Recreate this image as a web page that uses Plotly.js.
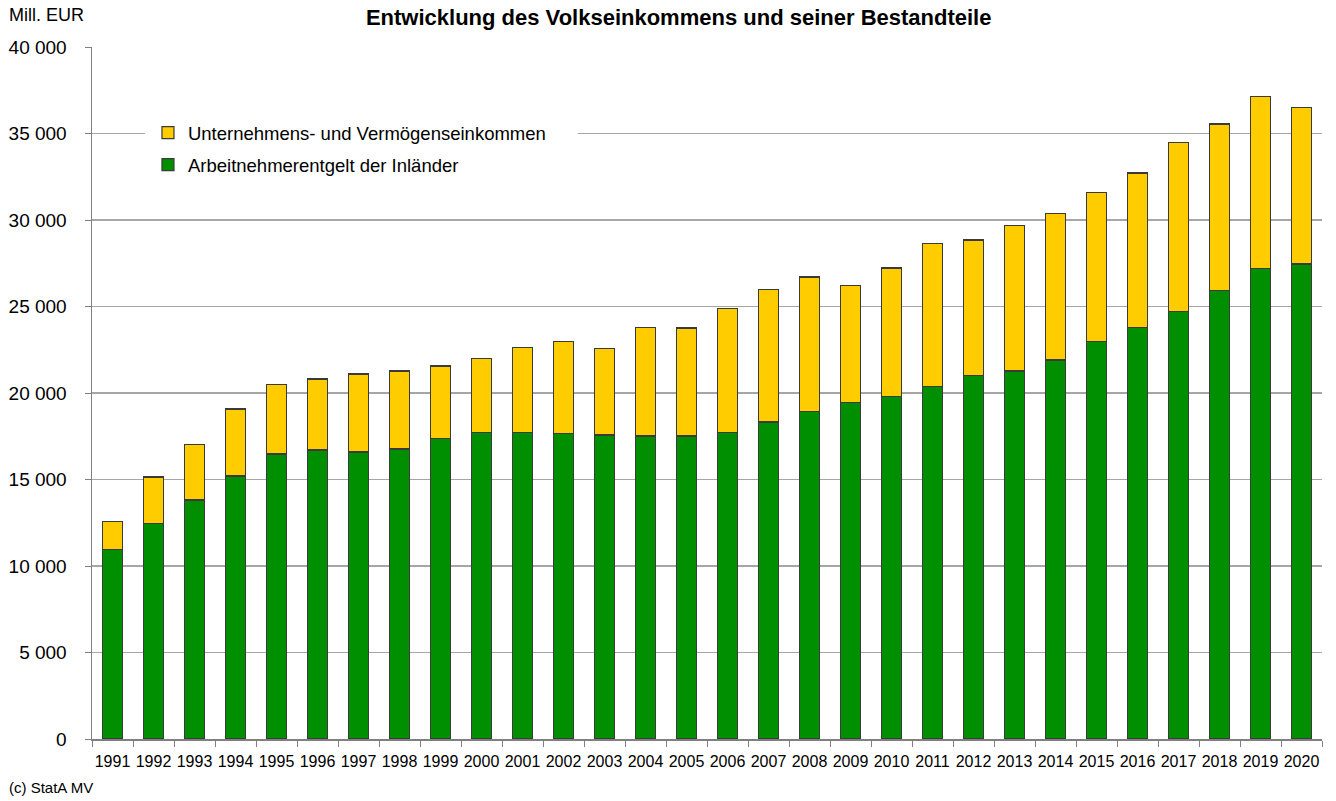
<!DOCTYPE html>
<html>
<head>
<meta charset="utf-8">
<script src="https://cdn.plot.ly/plotly-3.0.1.min.js"></script>
<style>html,body{margin:0;padding:0;background:#fff;}#chart{width:1336px;height:801px;}</style>
</head>
<body>
<div id="chart"></div>
<script>
const years = ["1991","1992","1993","1994","1995","1996","1997","1998","1999","2000",
  "2001","2002","2003","2004","2005","2006","2007","2008","2009","2010",
  "2011","2012","2013","2014","2015","2016","2017","2018","2019","2020"];
const arbeitnehmer = [10970,12470,13820,15200,16470,16710,16590,16760,17360,17730,
  17730,17670,17570,17510,17510,17730,18320,18930,19440,19810,
  20370,21000,21270,21910,22970,23800,24700,25910,27200,27460];
const unternehmen = [1590,2670,3210,3880,4010,4100,4510,4510,4200,4260,
  4890,5300,4990,6290,6250,7140,7670,7780,6780,7420,
  8280,7840,8400,8480,8630,8920,9800,9640,9930,9030];

const nameA = "Arbeitnehmerentgelt der Inländer";
const nameU = "Unternehmens- und Vermögenseinkommen";
const titleText = "Entwicklung des Volkseinkommens und seiner Bestandteile";

const traces = [
  {type:"bar", x:years, y:arbeitnehmer, name:nameA, legendgroup:"a", legendrank:2,
   marker:{color:"#008F00", line:{color:"#3a3a3a", width:1.2}}, width:0.48},
  {type:"bar", x:years, y:unternehmen, name:nameU, legendgroup:"u", legendrank:1,
   marker:{color:"#FFCC00", line:{color:"#3a3a3a", width:1.2}}, width:0.48}
];

const layout = {
  width:1336, height:801,
  margin:{l:92, r:14, t:47, b:62},
  paper_bgcolor:"#fff", plot_bgcolor:"#fff",
  font:{family:"Liberation Sans, Arial, sans-serif", color:"#000"},
  separators:", ",
  barmode:"stack",
  showlegend:true,
  title:{text:"<b>"+titleText+"</b>", x:0.508, xanchor:"center", y:0.979, yanchor:"middle",
         font:{size:22, family:"Liberation Sans, Arial, sans-serif", color:"#000"}},
  xaxis:{type:"category", showline:true, linecolor:"#808080", linewidth:1.5,
         ticks:"outside", tickson:"boundaries", ticklen:6, tickcolor:"#808080",
         tickangle:0, tickfont:{size:16}, ticklabelstandoff:7, showgrid:false, fixedrange:true},
  yaxis:{range:[0,40000], dtick:5000, tickformat:",d", showline:true, linecolor:"#808080", linewidth:1.5,
         ticks:"outside", ticklen:6, tickcolor:"#808080", tickfont:{size:19}, ticklabelstandoff:14,
         showgrid:true, gridcolor:"#a6a6a6", gridwidth:1.5, zeroline:false, fixedrange:true},
  legend:{x:0.0455, xanchor:"left", y:0.903, yanchor:"top", bgcolor:"#fff", traceorder:"grouped",
          font:{size:18.5}, borderwidth:0, itemwidth:30, tracegroupgap:5},
  shapes:[
    {type:"rect", xref:"paper", yref:"y", x0:0.043, x1:0.395, y0:34700, y1:35300,
     fillcolor:"#fff", line:{width:0}, layer:"above"}
  ],
  annotations:[
    {text:"Mill. EUR", xref:"paper", yref:"paper", x:-0.069, xanchor:"left", y:1.046, yanchor:"middle",
     showarrow:false, font:{size:18}},
    {text:"(c) StatA MV", xref:"paper", yref:"paper", x:-0.069, xanchor:"left", y:-0.07, yanchor:"middle",
     showarrow:false, font:{size:15}}
  ]
};

Plotly.newPlot("chart", traces, layout, {displayModeBar:false, staticPlot:true});
</script>
</body>
</html>
